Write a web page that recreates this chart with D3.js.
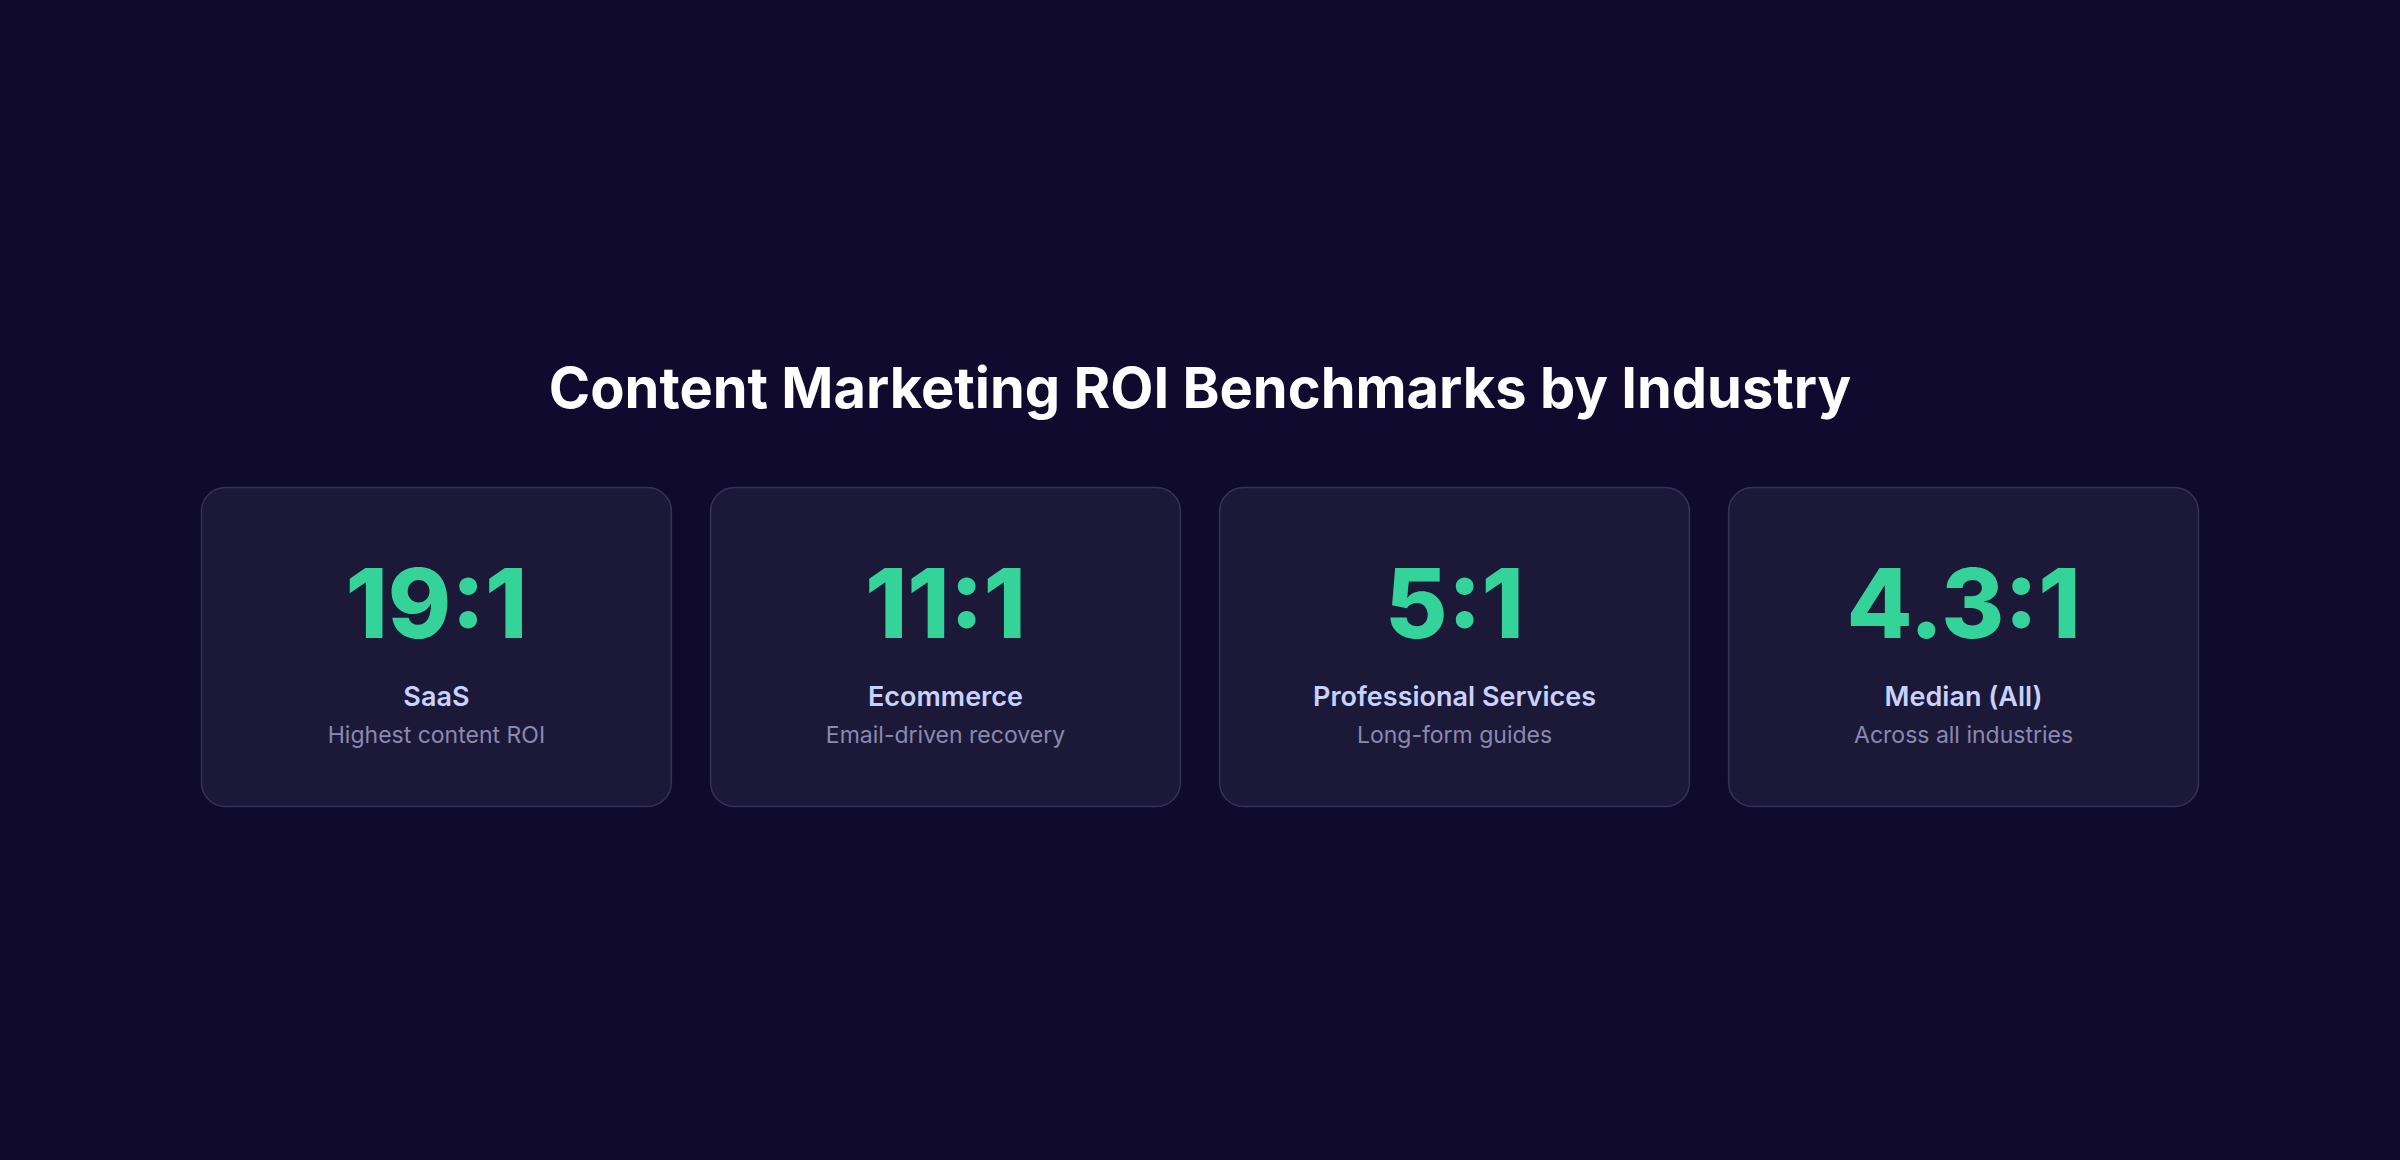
<!DOCTYPE html>
<html><head><meta charset="utf-8">
<script src="https://cdn.jsdelivr.net/npm/d3@7"></script>
<style>html,body{margin:0;padding:0;background:#0f0a2e;}svg{display:block;}</style>
</head><body>
<script>
const title = "Content Marketing ROI Benchmarks by Industry";
const values = ["19:1", "11:1", "5:1", "4.3:1"];
const labels = ["SaaS", "Ecommerce", "Professional Services", "Median (All)"];
const notes = ["Highest content ROI", "Email-driven recovery", "Long-form guides", "Across all industries"];

const W = 2400, H = 1160;
const svg = d3.select("body").append("svg").attr("width", W).attr("height", H);
svg.append("rect").attr("width", W).attr("height", H).attr("fill", "#0f0a2e");
svg.append("text").attr("x", W/2).attr("y", 408).attr("text-anchor", "middle")
  .attr("font-family", "Inter").attr("font-weight", 700).attr("font-size", 56)
  .attr("fill", "#ffffff").text(title);

const x = d3.scaleBand().domain(labels).range([201, 2199]).paddingInner(0.075);
const g = svg.selectAll("g.card").data(labels).join("g")
  .attr("transform", d => `translate(${x(d)},487)`);
const cw = x.bandwidth();
g.append("rect").attr("x", 0.5).attr("y", 0.5).attr("width", cw - 1).attr("height", 319)
  .attr("rx", 24).attr("fill", "#1c1838").attr("stroke", "#37325a").attr("stroke-width", 1.5);
g.append("text").attr("x", cw/2).attr("y", 151).attr("text-anchor", "middle")
  .attr("font-family", "Inter").attr("font-weight", 800).attr("font-size", 96)
  .attr("fill", "#34d399").text((d,i) => values[i]);
g.append("text").attr("x", cw/2).attr("y", 219).attr("text-anchor", "middle")
  .attr("font-family", "Inter").attr("font-weight", 600).attr("font-size", 27)
  .attr("fill", "#c7d2fe").text(d => d);
g.append("text").attr("x", cw/2).attr("y", 256).attr("text-anchor", "middle")
  .attr("font-family", "Inter").attr("font-weight", 400).attr("font-size", 23)
  .attr("fill", "#8b89b0").text((d,i) => notes[i]);
</script>
</body></html>
